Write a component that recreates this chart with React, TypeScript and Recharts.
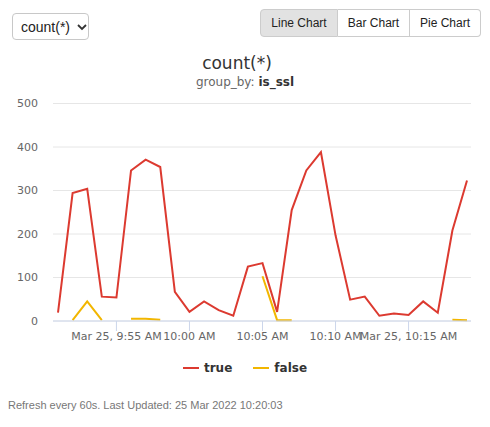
import React from "react";
import {
  LineChart,
  Line,
  XAxis,
  YAxis,
  CartesianGrid,
  Legend,
} from "recharts";

// minute stamps, one per point
const times = [
  "9:51", "9:52", "9:53", "9:54", "9:55", "9:56", "9:57", "9:58", "9:59", "10:00",
  "10:01", "10:02", "10:03", "10:04", "10:05", "10:06", "10:07", "10:08", "10:09", "10:10",
  "10:11", "10:12", "10:13", "10:14", "10:15", "10:16", "10:17", "10:18", "10:19",
];

const trueCounts = [
  19, 294, 304, 56, 54, 346, 371, 354, 67, 21,
  45, 25, 12, 125, 133, 21, 255, 346, 388, 197,
  49, 56, 12, 17, 14, 45, 19, 208, 323,
];

const falseCounts: (number | null)[] = [
  null, 2, 45, 2, null, 5, 5, 3, null, null,
  null, null, null, null, 103, 2, 2, null, null, null,
  null, null, null, null, null, null, null, 3, 2,
];

const tickTimes = ["9:55", "10:00", "10:05", "10:10", "10:15"];
const tickLabels = ["Mar 25, 9:55 AM", "10:00 AM", "10:05 AM", "10:10 AM", "Mar 25, 10:15 AM"];
const yTicks = [0, 100, 200, 300, 400, 500];

const series = [
  { key: "true", color: "#dc3a30" },
  { key: "false", color: "#f2b600" },
];

const toMin = (s: string) => {
  const [h, m] = s.split(":").map(Number);
  return h * 60 + m;
};

const data = times.map((t, i) => ({
  t: toMin(t),
  true: trueCounts[i],
  false: falseCounts[i],
}));

const xTicks = tickTimes.map(toMin);

const chartFont = "'DejaVu Sans', sans-serif";
const uiFont = "'Liberation Sans', Arial, sans-serif";

function LegendBox() {
  return (
    <div
      style={{
        display: "flex",
        justifyContent: "center",
        alignItems: "center",
        gap: 21,
        fontFamily: chartFont,
        fontSize: 12,
        fontWeight: "bold",
        color: "#333",
        height: 20,
      }}
    >
      {series.map((s) => (
        <div key={s.key} style={{ display: "flex", alignItems: "center" }}>
          <svg width={16} height={4} style={{ marginRight: 5 }}>
            <line x1={0} y1={2} x2={16} y2={2} stroke={s.color} strokeWidth={2} />
          </svg>
          {s.key}
        </div>
      ))}
    </div>
  );
}

const btn = (active: boolean, first: boolean, last: boolean, w: number): React.CSSProperties => ({
  width: w,
  height: 28,
  boxSizing: "border-box",
  border: "1px solid #ccc",
  borderLeft: first ? "1px solid #ccc" : "none",
  borderRadius: first ? "4px 0 0 4px" : last ? "0 4px 4px 0" : 0,
  background: active ? "#e2e2e2" : "#fff",
  fontFamily: uiFont,
  fontSize: 12,
  color: "#222",
  display: "flex",
  alignItems: "center",
  justifyContent: "center",
});

export default function App() {
  return (
    <div
      style={{
        position: "absolute",
        left: 0,
        top: 0,
        width: 490,
        height: 427,
        background: "#fff",
        overflow: "hidden",
      }}
    >
      {/* metric select */}
      <div
        style={{
          position: "absolute",
          left: 12,
          top: 13,
          width: 77,
          height: 27,
          boxSizing: "border-box",
          border: "1px solid #c8c8c8",
          borderRadius: 4,
          fontFamily: uiFont,
          fontSize: 14,
          color: "#222",
          display: "flex",
          alignItems: "center",
          paddingLeft: 8,
        }}
      >
        count(*)
        <svg width={10} height={8} style={{ marginLeft: 7 }}>
          <polyline points="1,2 5,6 9,2" fill="none" stroke="#333" strokeWidth={1.8} />
        </svg>
      </div>

      {/* chart type buttons */}
      <div style={{ position: "absolute", left: 260, top: 9, display: "flex" }}>
        <div style={btn(true, true, false, 78)}>Line Chart</div>
        <div style={btn(false, false, false, 72)}>Bar Chart</div>
        <div style={btn(false, false, true, 71)}>Pie Chart</div>
      </div>

      {/* title */}
      <div
        style={{
          position: "absolute",
          left: 0,
          width: 474,
          top: 55,
          textAlign: "center",
          fontFamily: chartFont,
          fontSize: 17,
          lineHeight: "17px",
          color: "#333",
        }}
      >
        count(*)
      </div>
      <div
        style={{
          position: "absolute",
          left: 0,
          width: 490,
          top: 76,
          textAlign: "center",
          fontFamily: chartFont,
          fontSize: 12,
          lineHeight: "12px",
          color: "#666",
        }}
      >
        group_by: <b style={{ color: "#333" }}>is_ssl</b>
      </div>

      <div style={{ position: "absolute", left: 0, top: 90 }}>
        <LineChart
          width={490}
          height={300}
          data={data}
          margin={{ top: 13.5, right: 19, left: 0, bottom: 19 }}
          style={{ fontFamily: chartFont }}
        >
          <CartesianGrid vertical={false} stroke="#e6e6e6" />
          <XAxis
            dataKey="t"
            type="number"
            domain={["dataMin", "dataMax"]}
            padding={{ left: 5, right: 4 }}
            ticks={xTicks}
            interval={0}
            tickFormatter={(v: number) => tickLabels[xTicks.indexOf(v)] ?? ""}
            tickSize={10}
            tickMargin={1}
            height={30}
            stroke="#ccd6eb"
            tick={{ fill: "#666", fontSize: 11 }}
          />
          <YAxis
            domain={[0, 500]}
            ticks={yTicks}
            width={53}
            axisLine={false}
            tickLine={false}
            tickSize={0}
            tickMargin={15}
            tick={{ fill: "#666", fontSize: 11 }}
          />
          <Legend
            content={<LegendBox />}
            wrapperStyle={{ top: 268, bottom: undefined, left: 0, width: 490 }}
          />
          {series.map((s) => (
            <Line
              key={s.key}
              type="linear"
              dataKey={s.key}
              stroke={s.color}
              strokeWidth={2}
              dot={false}
              activeDot={false}
              connectNulls={false}
              isAnimationActive={false}
            />
          ))}
        </LineChart>
      </div>

      <div
        style={{
          position: "absolute",
          left: 8,
          top: 399,
          fontFamily: uiFont,
          fontSize: 11,
          color: "#777",
        }}
      >
        Refresh every 60s. Last Updated: 25 Mar 2022 10:20:03
      </div>
    </div>
  );
}
